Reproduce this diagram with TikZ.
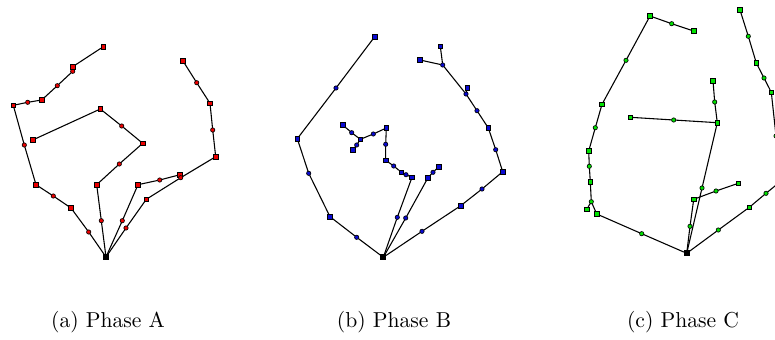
\documentclass[tikz,border=0pt]{standalone}
\definecolor{redfill}{RGB}{235,0,0}
\definecolor{bluefill}{RGB}{10,10,210}
\definecolor{greenfill}{RGB}{0,225,0}
\tikzset{
  edge/.style={draw=black,line width=0.5pt},
  mk/.style={draw=black,line width=0.3pt,inner sep=0pt,outer sep=0pt},
  sqm/.style={mk,rectangle,minimum size=2.2pt},
  cim/.style={mk,circle,minimum size=2.0pt},
  rootm/.style={rectangle,fill=black,draw=black,inner sep=0pt,minimum size=2.2pt},
  captext/.style={anchor=base,inner sep=0pt}
}
\newcommand\mysq[4]{\node[sqm,fill=#4] (#1) at (#2,#3) {};}
\newcommand\myci[4]{\node[cim,fill=#4] (#1) at (#2,#3) {};}
\begin{document}
\begin{tikzpicture}[x=0.463pt,y=-0.463pt]
\useasboundingbox (0,0) rectangle (775,339);
\begin{scope}
\clip (0,0) rectangle (775,339);
% ---------- Panel A ----------
\node[rootm] (rA) at (106,257) {};
\myci{a1}{88.7}{232}{redfill}
\mysq{a2}{71}{208}{redfill}
\myci{a3}{53.3}{196}{redfill}
\mysq{a4}{36}{184.7}{redfill}
\myci{a5}{24.3}{145}{redfill}
\mysq{a6}{13.3}{105.3}{redfill}
\myci{a7}{27.7}{102.3}{redfill}
\mysq{a8}{41.7}{100}{redfill}
\myci{a9}{57.3}{85.7}{redfill}
\myci{a10}{72.7}{71.3}{redfill}
\mysq{a11}{72.7}{66.7}{redfill}
\mysq{a12}{103.3}{46.7}{redfill}
\myci{b1}{101.3}{220.7}{redfill}
\mysq{b2}{96.7}{184.7}{redfill}
\myci{b3}{119.3}{164}{redfill}
\mysq{b4}{142.7}{143.3}{redfill}
\myci{b5}{121.7}{126}{redfill}
\mysq{b6}{100.3}{109}{redfill}
\mysq{b7}{32.7}{140}{redfill}
\myci{c1}{122.3}{220.7}{redfill}
\mysq{c2}{138}{184.7}{redfill}
\myci{c3}{159.7}{180}{redfill}
\mysq{c4}{180}{174.7}{redfill}
\myci{d1}{126}{228}{redfill}
\mysq{d2}{146.3}{199.3}{redfill}
\myci{d3}{180.7}{177.7}{redfill}
\mysq{d4}{215.7}{156.7}{redfill}
\myci{d5}{212.7}{130}{redfill}
\mysq{d6}{210}{103.3}{redfill}
\myci{d7}{196.7}{82.7}{redfill}
\mysq{d8}{183}{61}{redfill}
\draw[edge] (rA)--(a1)--(a2)--(a3)--(a4)--(a5)--(a6)--(a7)--(a8)--(a9)--(a10)--(a11)--(a12);
\draw[edge] (rA)--(b1)--(b2)--(b3)--(b4)--(b5)--(b6)--(b7);
\draw[edge] (rA)--(c1)--(c2)--(c3)--(c4);
\draw[edge] (rA)--(d1)--(d2)--(d3)--(d4)--(d5)--(d6)--(d7)--(d8);
% ---------- Panel B ----------
\node[rootm] (rB) at (383.3,257.3) {};
\myci{e1}{356.7}{237.3}{bluefill}
\mysq{e2}{330}{216.7}{bluefill}
\myci{e3}{308.7}{173.3}{bluefill}
\mysq{e4}{297.3}{138.7}{bluefill}
\myci{e5}{336}{88}{bluefill}
\mysq{e6}{374.7}{36.7}{bluefill}
\myci{f1}{397.3}{217.3}{bluefill}
\mysq{f2}{412}{177.3}{bluefill}
\myci{f3}{406}{174.7}{bluefill}
\mysq{f4}{401.3}{172.3}{bluefill}
\myci{f5}{393.7}{166}{bluefill}
\mysq{f6}{385.7}{160.3}{bluefill}
\myci{f7}{385.7}{144.3}{bluefill}
\mysq{f8}{386.3}{128}{bluefill}
\myci{f9}{373.3}{134}{bluefill}
\mysq{f10}{360.3}{139.3}{bluefill}
\myci{f11}{351.7}{132.7}{bluefill}
\mysq{f12}{342.7}{125}{bluefill}
\myci{f13}{356.7}{145}{bluefill}
\mysq{f14}{353}{150}{bluefill}
\myci{g1}{405.7}{218}{bluefill}
\mysq{g2}{428}{177.7}{bluefill}
\myci{g3}{433}{172.3}{bluefill}
\mysq{g4}{438.7}{166.7}{bluefill}
\myci{h1}{422}{231.3}{bluefill}
\mysq{h2}{460.7}{205.7}{bluefill}
\myci{h3}{482}{189}{bluefill}
\mysq{h4}{502.7}{171.7}{bluefill}
\myci{h5}{495.7}{149.7}{bluefill}
\mysq{h6}{488.3}{128}{bluefill}
\myci{h7}{477}{110.7}{bluefill}
\myci{h8}{466}{94}{bluefill}
\mysq{h9}{467.3}{88}{bluefill}
\myci{h10}{442.7}{65}{bluefill}
\mysq{h11}{440.3}{46.3}{bluefill}
\mysq{h12}{420}{60}{bluefill}
\draw[edge] (rB)--(e1)--(e2)--(e3)--(e4)--(e5)--(e6);
\draw[edge] (rB)--(f1)--(f2)--(f3)--(f4)--(f5)--(f6)--(f7)--(f8)--(f9)--(f10)--(f11)--(f12);
\draw[edge] (f10)--(f13)--(f14);
\draw[edge] (rB)--(g1)--(g2)--(g3)--(g4);
\draw[edge] (rB)--(h1)--(h2)--(h3)--(h4)--(h5)--(h6)--(h7)--(h8)--(h10)--(h11);
\draw[edge] (h8)--(h9);
\draw[edge] (h10)--(h12);
% ---------- Panel C ----------
\node[rootm] (rC) at (686.7,253.3) {};
\myci{i1}{641.7}{233.7}{greenfill}
\mysq{i2}{596.7}{214}{greenfill}
\myci{i3}{591.3}{201.7}{greenfill}
\mysq{i4}{590.3}{181.7}{greenfill}
\myci{i5}{589.3}{166.3}{greenfill}
\mysq{i6}{588.7}{151}{greenfill}
\myci{i7}{595.3}{127.7}{greenfill}
\mysq{i8}{602}{104.3}{greenfill}
\myci{i9}{626}{60.3}{greenfill}
\mysq{i10}{650}{16}{greenfill}
\myci{i11}{671.7}{23.7}{greenfill}
\mysq{i12}{693.7}{31}{greenfill}
\mysq{i13}{586.7}{209.3}{greenfill}
\myci{j1}{690}{226.3}{greenfill}
\mysq{j2}{693.7}{199.3}{greenfill}
\myci{j3}{716}{191}{greenfill}
\mysq{j4}{738.3}{183.3}{greenfill}
\myci{k1}{702}{188}{greenfill}
\mysq{k2}{717.3}{122.7}{greenfill}
\myci{k3}{714.7}{102}{greenfill}
\mysq{k4}{713}{81}{greenfill}
\myci{k5}{673.7}{120}{greenfill}
\mysq{k6}{630.3}{117.3}{greenfill}
\myci{l1}{718.3}{230}{greenfill}
\mysq{l2}{749.3}{207.3}{greenfill}
\myci{l3}{766}{193.3}{greenfill}
\mysq{l4}{786}{177}{greenfill}
\myci{l5}{776}{136}{greenfill}
\mysq{l6}{771.3}{92.3}{greenfill}
\myci{l7}{764}{78}{greenfill}
\mysq{l8}{756.3}{63}{greenfill}
\myci{l9}{748.3}{36.3}{greenfill}
\mysq{l10}{740}{10}{greenfill}
\draw[edge] (rC)--(i1)--(i2)--(i3)--(i4)--(i5)--(i6)--(i7)--(i8)--(i9)--(i10)--(i11)--(i12);
\draw[edge] (i3)--(i13);
\draw[edge] (rC)--(j1)--(j2)--(j3)--(j4);
\draw[edge] (rC)--(k1)--(k2)--(k3)--(k4);
\draw[edge] (k2)--(k5)--(k6);
\draw[edge] (rC)--(l1)--(l2)--(l3)--(l4)--(l5)--(l6)--(l7)--(l8)--(l9)--(l10);
\end{scope}
% ---------- Captions ----------
\node[captext] (capA) at (108,327) {(a) Phase A};
\node[captext] (capB) at (394,327) {(b) Phase B};
\node[captext] (capC) at (683,327) {(c) Phase C};
\end{tikzpicture}
\end{document}
